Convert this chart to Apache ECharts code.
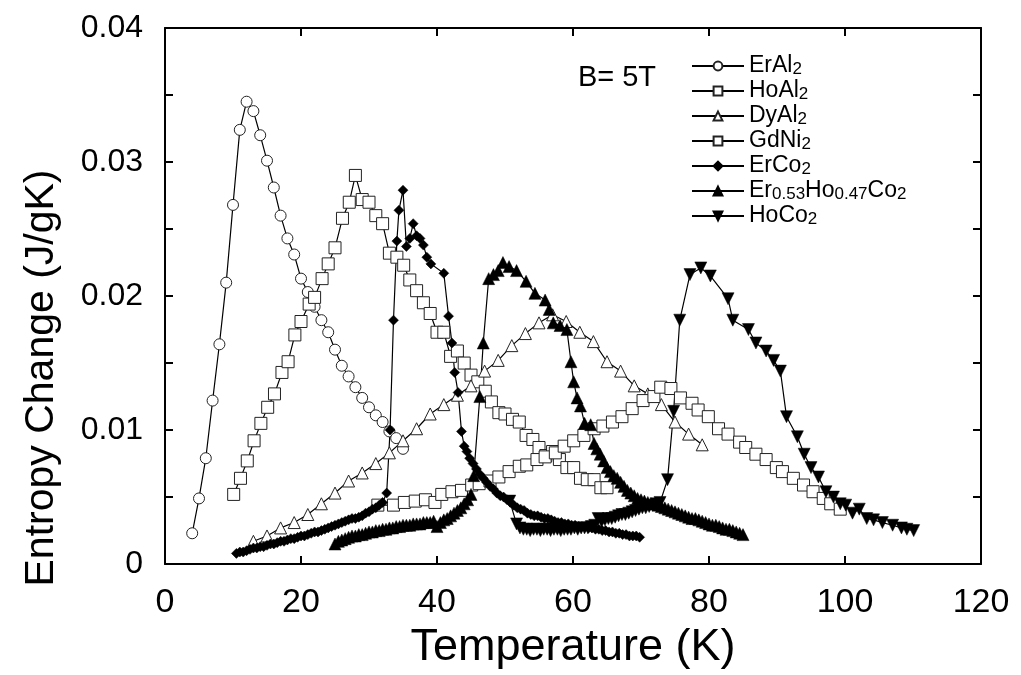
<!DOCTYPE html>
<html>
<head>
<meta charset="utf-8">
<script src="https://cdn.jsdelivr.net/npm/echarts@6/dist/echarts.min.js"></script>
<style>html,body{margin:0;padding:0;background:#fff;}#c{width:1021px;height:675px;}</style>
</head>
<body>
<div id="c"></div>
<script>
// ---- data: [Temperature (K), Entropy change (J/gK)] ----
const erAl2 = [[4,0.0023],[5,0.0049],[6,0.0079],[7,0.0122],[8,0.0164],[9,0.0210],[10,0.0268],[11,0.0324],[12,0.0345],[13,0.0338],[14,0.0320],[15,0.0301],[16,0.0281],[17,0.0260],[18,0.0243],[19,0.0231],[20,0.0213],[21,0.0203],[22,0.0192],[23,0.0182],[24,0.0173],[25,0.0160],[26,0.0148],[27,0.0140],[28,0.0132],[29,0.0124],[30,0.0117],[31,0.0111],[32,0.0106],[33,0.0099],[34,0.0094],[35,0.0086]];
const hoAl2 = [[10.1,0.0052],[11.1,0.0064],[12.1,0.0077],[13.1,0.0092],[14.1,0.0105],[15.1,0.0117],[16.1,0.0127],[17.2,0.0143],[18.1,0.0151],[19.1,0.0171],[20.0,0.0181],[21.2,0.0194],[22.0,0.0199],[23.1,0.0213],[24.0,0.0224],[25.0,0.0236],[26.1,0.0258],[27.1,0.0270],[28.0,0.0290],[29.0,0.0272],[30.0,0.0270],[31.0,0.0260],[32.0,0.0254],[33.0,0.0232],[34.1,0.0229],[35.1,0.0223],[36.0,0.0212],[37.0,0.0204],[38.0,0.0195],[39.0,0.0187],[40.0,0.0173],[41.0,0.0173],[42.0,0.0155],[43.0,0.0159],[44.0,0.0150],[45.0,0.0141],[46.0,0.0136],[47.1,0.0129],[48.0,0.0121],[49.1,0.0113],[50.0,0.0112],[51.1,0.0108],[52.1,0.0106],[53.1,0.0096],[54.1,0.0093],[55.0,0.0087],[56.0,0.0081],[57.0,0.0084],[58.0,0.0078],[59.1,0.0072],[60.1,0.0072],[61.1,0.0064],[62.1,0.0063],[63.1,0.0063],[64.1,0.0057],[65.0,0.0057]];
const dyAl2 = [[13,0.0017],[15,0.0021],[17,0.0027],[19,0.0031],[21,0.0037],[23,0.0045],[25,0.0053],[27,0.0062],[29,0.0068],[31,0.0075],[33,0.0083],[35,0.0092],[37,0.0101],[39,0.0112],[41,0.0119],[43,0.0126],[45,0.0133],[47,0.0144],[49,0.0152],[51,0.0163],[53,0.0172],[55,0.0180],[57,0.0186],[59,0.0181],[61,0.0173],[63,0.0166],[65,0.0151],[67,0.0144],[69,0.0133],[71,0.0127],[73,0.0119],[75,0.0106],[77,0.0097],[79,0.0089]];
const gdNi2 = [[31.3,0.0044],[33.6,0.0044],[35.2,0.0046],[36.8,0.0047],[38.3,0.0048],[39.7,0.0046],[40.7,0.0052],[42.2,0.0054],[43.6,0.0055],[45.1,0.0059],[46.2,0.0060],[47.8,0.0062],[49.1,0.0065],[50.6,0.0069],[52.1,0.0073],[53.2,0.0074],[54.7,0.0078],[55.9,0.0080],[57.4,0.0083],[58.7,0.0088],[60.1,0.0092],[61.6,0.0096],[63.1,0.0101],[64.4,0.0103],[65.8,0.0106],[67.2,0.0110],[68.7,0.0116],[70.3,0.0122],[71.9,0.0125],[72.9,0.0132],[74.4,0.0131],[75.8,0.0124],[77.5,0.0120],[78.4,0.0115],[79.9,0.0110],[81.4,0.0101],[82.8,0.0097],[84.5,0.0091],[85.4,0.0087],[86.9,0.0082],[88.4,0.0078],[89.9,0.0072],[90.8,0.0069],[92.4,0.0064],[93.9,0.0059],[95.3,0.0054],[96.8,0.0049],[97.9,0.0045],[99.3,0.0041]];
const erCo2 = [[10.5,0.0008],[11,0.0009],[11.5,0.0009],[12,0.0010],[12.5,0.0011],[13,0.0012],[13.5,0.0012],[14,0.0013],[14.5,0.0013],[15,0.0014],[15.5,0.0015],[16,0.0015],[16.5,0.0016],[17,0.0017],[17.5,0.0017],[18,0.0018],[18.5,0.0019],[19,0.0019],[19.5,0.0020],[20,0.0021],[20.5,0.0021],[21,0.0022],[21.5,0.0023],[22,0.0024],[22.5,0.0024],[23,0.0025],[23.5,0.0026],[24,0.0027],[24.5,0.0028],[25,0.0029],[25.5,0.0030],[26,0.0031],[26.5,0.0032],[27,0.0033],[27.5,0.0034],[28,0.0034],[28.5,0.0035],[29,0.0036],[29.5,0.0038],[30,0.0039],[30.5,0.0041],[31,0.0042],[31.5,0.0044],[32,0.0046],[32.6,0.0053],[33.1,0.0100],[33.6,0.0182],[34.1,0.0241],[34.4,0.0264],[35.0,0.0279],[35.5,0.0237],[36.0,0.0243],[36.5,0.0254],[37.0,0.0245],[37.5,0.0243],[38.0,0.0238],[38.5,0.0229],[39.1,0.0224],[41.0,0.0217],[41.7,0.0185],[42.2,0.0165],[42.6,0.0143],[43.1,0.0128],[43.6,0.0099],[44.0,0.0088],[44.4,0.0084],[44.8,0.0079],[45.3,0.0075],[45.8,0.0071],[46.3,0.0067],[46.8,0.0064],[47.3,0.0061],[47.8,0.0058],[48.3,0.0056],[48.8,0.0053],[49.3,0.0051],[49.8,0.0050],[50.3,0.0048],[50.8,0.0046],[51.3,0.0044],[51.8,0.0042],[52.3,0.0041],[52.8,0.0040],[53.3,0.0038],[53.8,0.0037],[54.3,0.0036],[54.8,0.0036],[55.3,0.0035],[55.8,0.0034],[56.3,0.0034],[56.8,0.0033],[57.3,0.0032],[57.8,0.0031],[58.3,0.0031],[58.8,0.0030],[59.3,0.0030],[59.8,0.0029],[60.3,0.0029],[60.8,0.0028],[61.3,0.0028],[61.8,0.0028],[62.3,0.0027],[62.8,0.0027],[63.3,0.0026],[63.8,0.0026],[64.3,0.0025],[64.8,0.0025],[65.3,0.0024],[65.8,0.0024],[66.3,0.0023],[66.8,0.0023],[67.3,0.0022],[67.8,0.0022],[68.3,0.0021],[68.8,0.0021],[69.3,0.0021],[69.8,0.0020]];
const erHoCo2 = [[25,0.0015],[25.5,0.0017],[26,0.0018],[26.5,0.0019],[27,0.0020],[27.5,0.0021],[28,0.0021],[28.5,0.0022],[29,0.0022],[29.5,0.0023],[30,0.0024],[30.5,0.0024],[31,0.0025],[31.5,0.0025],[32,0.0026],[32.5,0.0026],[33,0.0027],[33.5,0.0027],[34,0.0028],[34.5,0.0028],[35,0.0029],[35.5,0.0029],[36,0.0029],[36.5,0.0030],[37,0.0030],[37.5,0.0030],[38,0.0031],[38.5,0.0031],[39,0.0031],[39.5,0.0032],[40,0.0028],[40.5,0.0031],[41,0.0033],[41.5,0.0034],[42,0.0036],[42.5,0.0038],[43,0.0040],[43.5,0.0042],[44,0.0045],[44.5,0.0048],[45,0.0052],[45.4,0.0066],[46.3,0.0125],[46.8,0.0165],[47.6,0.0213],[48.3,0.0216],[49.0,0.0219],[49.7,0.0225],[50.6,0.0222],[51.7,0.0219],[53.1,0.0211],[54.4,0.0202],[55.9,0.0197],[56.5,0.0190],[57.1,0.0180],[58.1,0.0178],[59.1,0.0175],[59.7,0.0151],[60.1,0.0136],[60.6,0.0124],[61.1,0.0118],[61.7,0.0105],[62.6,0.0104],[63.1,0.0090],[63.5,0.0086],[64.0,0.0082],[64.5,0.0077],[65.0,0.0072],[65.5,0.0069],[66.0,0.0066],[66.5,0.0064],[67.0,0.0061],[67.5,0.0058],[68.0,0.0055],[68.5,0.0053],[69.0,0.0051],[69.5,0.0049],[70.0,0.0048],[70.5,0.0047],[71.0,0.0046],[71.5,0.0045],[72.0,0.0045],[72.5,0.0044],[73.0,0.0043],[73.5,0.0042],[74.0,0.0041],[74.5,0.0040],[75.0,0.0039],[75.5,0.0038],[76.0,0.0037],[76.5,0.0036],[77.0,0.0035],[77.5,0.0034],[78.0,0.0034],[78.5,0.0033],[79.0,0.0032],[79.5,0.0031],[80.0,0.0030],[80.5,0.0029],[81.0,0.0029],[81.5,0.0028],[82.0,0.0027],[82.5,0.0026],[83.0,0.0026],[83.5,0.0025],[84.0,0.0024],[84.5,0.0023],[85.0,0.0022]];
const hoCo2 = [[50.7,0.0047],[51.7,0.0030],[52.2,0.0027],[52.7,0.0026],[53.2,0.0026],[53.7,0.0025],[54.2,0.0026],[54.7,0.0026],[55.2,0.0025],[55.7,0.0026],[56.2,0.0026],[56.7,0.0025],[57.2,0.0026],[57.7,0.0026],[58.2,0.0025],[58.7,0.0026],[59.2,0.0026],[59.7,0.0026],[60.2,0.0027],[60.7,0.0026],[61.2,0.0027],[61.7,0.0027],[62.2,0.0027],[62.7,0.0028],[63.2,0.0029],[63.7,0.0034],[64.2,0.0032],[64.7,0.0033],[65.2,0.0034],[65.7,0.0034],[66.2,0.0035],[66.7,0.0036],[67.2,0.0037],[67.7,0.0037],[68.2,0.0038],[68.7,0.0039],[69.2,0.0040],[69.7,0.0041],[70.2,0.0042],[70.7,0.0042],[71.2,0.0043],[71.7,0.0044],[72.2,0.0045],[72.8,0.0046],[73.9,0.0063],[74.8,0.0114],[75.7,0.0182],[77.2,0.0216],[78.8,0.0221],[80.2,0.0215],[82.8,0.0198],[83.5,0.0182],[85.8,0.0175],[86.9,0.0165],[88.4,0.0159],[89.5,0.0152],[90.5,0.0144],[91.4,0.0110],[93.0,0.0095],[94.0,0.0082],[95.0,0.0072],[96.1,0.0065],[97.2,0.0054],[98.3,0.0050],[99.3,0.0045],[100.1,0.0044],[101.1,0.0038],[102.1,0.0041],[103.2,0.0034],[104.2,0.0033],[105.5,0.0031],[107.0,0.0029],[108.3,0.0027],[109.1,0.0026],[110.1,0.0025]];

const seriesNames = ['ErAl2','HoAl2','DyAl2','GdNi2','ErCo2','Er0.53Ho0.47Co2','HoCo2'];
const legendRich = ['ErAl{s|2}','HoAl{s|2}','DyAl{s|2}','GdNi{s|2}','ErCo{s|2}','Er{s|0.53}Ho{s|0.47}Co{s|2}','HoCo{s|2}'];
const xTickLabels = ['0','20','40','60','80','100','120'];
const yTickLabels = ['0','0.01','0.02','0.03','0.04'];
const xTitle = 'Temperature (K)';
const yTitle = 'Entropy Change (J/gK)';
const fieldNote = 'B= 5T';

const FONT = '"Liberation Sans", Arial, Helvetica, sans-serif';
const chart = echarts.init(document.getElementById('c'), null, {renderer: 'canvas'});

function openSym(sym, size){
  return {symbol: sym, symbolSize: size, itemStyle: {color: '#fff', borderColor: '#222', borderWidth: 1}};
}
function fillSym(sym, size, rot){
  return {symbol: sym, symbolSize: size, symbolRotate: rot || 0, itemStyle: {color: '#000', borderColor: '#000', borderWidth: 0.5}};
}
const styles = [openSym('circle', 11), openSym('rect', 12), openSym('triangle', 12), openSym('rect', 12),
                fillSym('diamond', 10), fillSym('triangle', 12), fillSym('triangle', 12, 180)];
const datas = [erAl2, hoAl2, dyAl2, gdNi2, erCo2, erHoCo2, hoCo2];

const series = datas.map((d, i) => Object.assign({
  name: seriesNames[i], type: 'line', data: d, showAllSymbol: true,
  lineStyle: {color: '#000', width: 1.2}, emphasis: {disabled: true}, animation: false,
  xAxisIndex: 0, yAxisIndex: 0
}, styles[i]));

const axisBase = {
  type: 'value', axisLine: {show: true, onZero: false, lineStyle: {color: '#000', width: 2}},
  splitLine: {show: false},
  axisTick: {show: true, inside: true, length: 8, lineStyle: {color: '#000', width: 2}}
};

chart.setOption({
  backgroundColor: '#fff',
  animation: false,
  grid: {left: 165, right: 40, top: 28, bottom: 103},
  legend: {
    data: seriesNames, orient: 'vertical', left: 686, top: 49,
    itemWidth: 52, itemHeight: 11, itemGap: 1,
    formatter: (n) => legendRich[seriesNames.indexOf(n)],
    textStyle: {fontFamily: FONT, fontSize: 23, color: '#000', lineHeight: 24,
      rich: {s: {fontFamily: FONT, fontSize: 17, color: '#000', lineHeight: 14, verticalAlign: 'bottom'}}}
  },
  xAxis: [
    Object.assign({}, axisBase, {min: 0, max: 120, interval: 20, position: 'bottom',
      name: xTitle, nameLocation: 'middle', nameGap: 48,
      nameTextStyle: {fontFamily: FONT, fontSize: 45, color: '#000'},
      axisLabel: {show: true, margin: 22, fontFamily: FONT, fontSize: 34, color: '#000',
        formatter: (v) => xTickLabels[Math.round(v / 20)]}}),
    Object.assign({}, axisBase, {min: 0, max: 120, interval: 20, position: 'top', axisLabel: {show: false}})
  ],
  yAxis: [
    Object.assign({}, axisBase, {min: 0, max: 0.04, interval: 0.01, position: 'left',
      minorTick: {show: true, splitNumber: 2, length: 8, lineStyle: {color: '#000', width: 2}},
      axisLabel: {show: true, margin: 22, fontFamily: FONT, fontSize: 32, color: '#000',
        formatter: (v) => yTickLabels[Math.round(v / 0.01)]}}),
    Object.assign({}, axisBase, {min: 0, max: 0.04, interval: 0.01, position: 'right',
      minorTick: {show: true, splitNumber: 2, length: 8, lineStyle: {color: '#000', width: 2}},
      axisLabel: {show: false}})
  ],
  graphic: [
    {type: 'text', x: 42, y: 378, rotation: Math.PI / 2,
      style: {text: yTitle, font: '41px ' + FONT, fill: '#000', textAlign: 'center', textVerticalAlign: 'middle'}},
    {type: 'text', x: 617, y: 78,
      style: {text: fieldNote, font: '29px ' + FONT, fill: '#000', textAlign: 'center', textVerticalAlign: 'middle'}}
  ],
  series: series
});
</script>
</body>
</html>
